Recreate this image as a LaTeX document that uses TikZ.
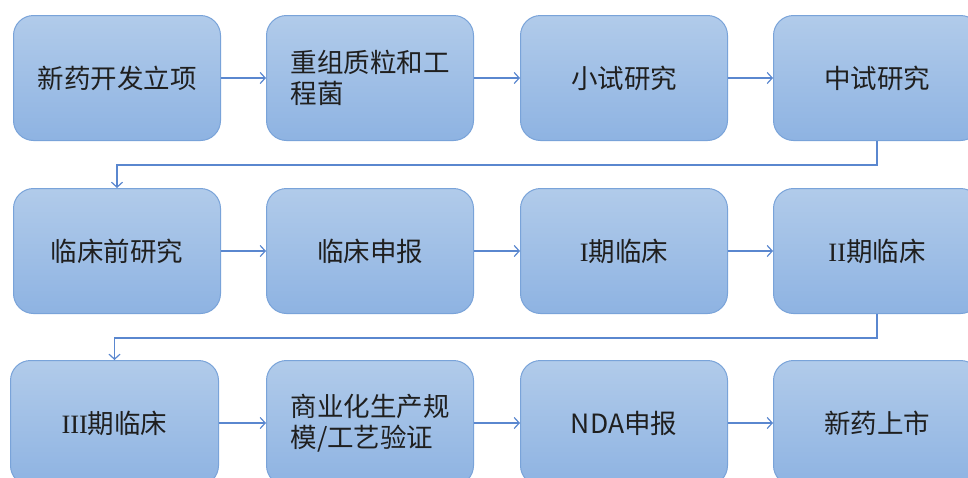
\documentclass[tikz,border=0pt]{standalone}
\usepackage{fontspec}
\setmainfont{Noto Sans CJK SC}
\newfontfamily\serifrm{Liberation Serif}
\usetikzlibrary{arrows.meta}
\definecolor{boxtop}{HTML}{B1CBEA}
\definecolor{boxbot}{HTML}{8EB3E2}
\definecolor{boxline}{HTML}{79A3D9}
\definecolor{arrowc}{HTML}{5A87CF}
\begin{document}
\begin{tikzpicture}[x=1pt,y=-1pt,
  stage/.style={rounded corners=20pt, draw=boxline, line width=1pt,
    top color=boxtop, bottom color=boxbot, minimum width=207pt,
    minimum height=125pt, font=\fontsize{26.5}{31}\selectfont,
    text=black!88, align=left, anchor=north west, inner sep=0pt},
  flow/.style={draw=arrowc, line width=1.2pt, -{Straight Barb[length=5pt,width=11pt]}}]
\clip (0,0) rectangle (968,477);
\fill[white] (0,0) rectangle (968,477);
% row 1
\node[stage] (b1) at (13,15) {新药开发立项};
\node[stage] (b2) at (266,15) {重组质粒和工\\程菌};
\node[stage] (b3) at (520,15) {小试研究};
\node[stage] (b4) at (773,15) {中试研究};
% row 2
\node[stage] (b5) at (13,188) {临床前研究};
\node[stage] (b6) at (266,188) {临床申报};
\node[stage] (b7) at (520,188) {{\serifrm I}期临床};
\node[stage] (b8) at (773,188) {{\serifrm II}期临床};
% row 3
\node[stage, minimum width=208pt] (b9) at (10,360) {{\serifrm III}期临床};
\node[stage] (b10) at (266,360) {商业化生产规\\模/工艺验证};
\node[stage] (b11) at (520,360) {NDA申报};
\node[stage] (b12) at (773,360) {新药上市};
% connectors
\draw[flow] (b1) -- (b2);
\draw[flow] (b2) -- (b3);
\draw[flow] (b3) -- (b4);
\draw[flow] (b4.south) -- ++(0,24) -| (b5.north);
\draw[flow] (b5) -- (b6);
\draw[flow] (b6) -- (b7);
\draw[flow] (b7) -- (b8);
\draw[flow] (b8.south) -- ++(0,24) -| (b9.north);
\draw[flow] (b9) -- (b10);
\draw[flow] (b10) -- (b11);
\draw[flow] (b11) -- (b12);
\end{tikzpicture}
\end{document}
